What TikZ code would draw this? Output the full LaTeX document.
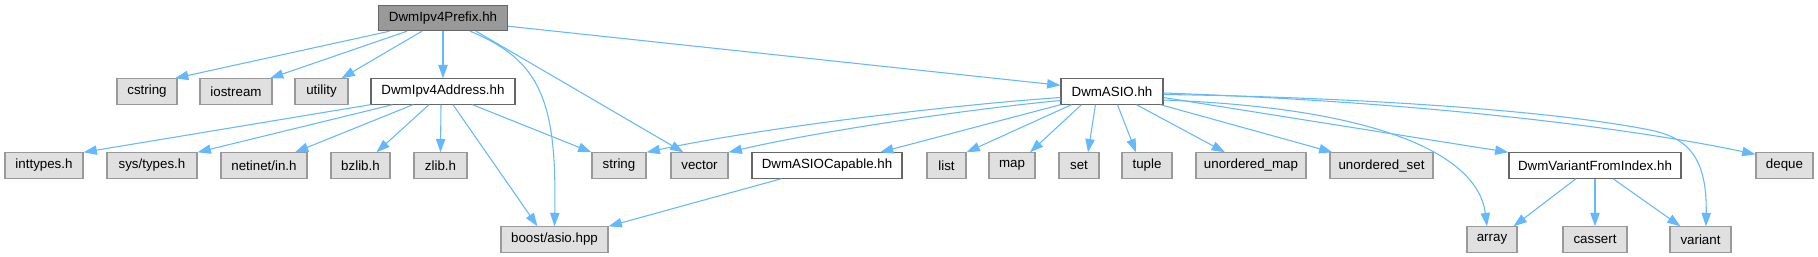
\documentclass[tikz,border=0pt]{standalone}
\usepackage{fontspec}
\setmainfont{Liberation Sans}
\usetikzlibrary{arrows.meta,calc}
\definecolor{Ecolor}{HTML}{63B8FF}
\definecolor{Xfill}{HTML}{E0E0E0}
\definecolor{Xdraw}{HTML}{999999}
\definecolor{Odraw}{HTML}{666666}
\definecolor{Tfill}{HTML}{999999}

\begin{document}
\begin{tikzpicture}[
  x=0.75pt, y=-0.75pt,
  file/.style={draw, line width=0.8pt, minimum height=19pt, inner sep=0pt, font=\fontsize{10}{12}\selectfont},
  ext/.style={file, fill=Xfill, draw=Xdraw},
  own/.style={file, fill=white, draw=Odraw},
  root/.style={file, fill=Tfill, draw=Odraw},
  arr/.style={-{Triangle[length=10pt,width=7pt]}, Ecolor, line width=0.8pt},
]
  \useasboundingbox (0,0) rectangle (1818,257);

  % row 1
  \node[root, minimum width=96.75pt] (prefix) at (443, 18) {DwmIpv4Prefix.hh};

  % row 2
  \node[ext, minimum width=45pt]    (cstring)  at (147, 91.5)  {cstring};
  \node[ext, minimum width=54pt]    (iostream) at (236, 91.5)  {iostream};
  \node[ext, minimum width=39.75pt] (utility)  at (321.5, 91.5) {utility};
  \node[own, minimum width=108pt]   (addr)     at (443, 91.5)  {DwmIpv4Address.hh};
  \node[own, minimum width=76.5pt]  (asio)     at (1112, 91.5) {DwmASIO.hh};

  % row 3
  \node[ext, minimum width=58.5pt]  (inttypes) at (44, 165.5)    {inttypes.h};
  \node[ext, minimum width=67.5pt]  (systypes) at (152, 165.5)   {sys/types.h};
  \node[ext, minimum width=64.5pt]  (netinet)  at (264, 165.5)   {netinet/in.h};
  \node[ext, minimum width=44.25pt] (bzlib)    at (360.5, 165.5) {bzlib.h};
  \node[ext, minimum width=39.75pt] (zlib)     at (440.5, 165.5) {zlib.h};
  \node[ext, minimum width=40.5pt]  (string)   at (619, 165.5)   {string};
  \node[ext, minimum width=42.75pt] (vector)   at (699.5, 165.5) {vector};
  \node[own, minimum width=112.5pt] (capable)  at (827, 165.5)   {DwmASIOCapable.hh};
  \node[ext, minimum width=29.25pt] (list)     at (946.5, 165.5) {list};
  \node[ext, minimum width=34.5pt]  (map)      at (1012, 165.5)  {map};
  \node[ext, minimum width=30pt]    (set)      at (1079, 165.5)  {set};
  \node[ext, minimum width=37.5pt]  (tuple)    at (1147, 165.5)  {tuple};
  \node[ext, minimum width=82.5pt]  (umap)     at (1251, 165.5)  {unordered\_map};
  \node[ext, minimum width=77.25pt] (uset)     at (1381.5, 165.5) {unordered\_set};
  \node[own, minimum width=129pt]   (varidx)   at (1595, 165.5)  {DwmVariantFromIndex.hh};
  \node[ext, minimum width=42.75pt] (deque)    at (1784.5, 165.5) {deque};

  % row 4
  \node[ext, minimum width=80.25pt] (boost)   at (554.5, 239.5)  {boost/asio.hpp};
  \node[ext, minimum width=37.5pt]  (array)   at (1492, 239.5)   {array};
  \node[ext, minimum width=48pt]    (cassert) at (1595, 239.5)   {cassert};
  \node[ext, minimum width=45.75pt] (variant) at (1700.5, 239.5) {variant};

  % DwmIpv4Prefix.hh
  \draw[arr] ($(prefix.south)+(-53.5,0)$) -- ($(cstring.north)+(28,0)$);
  \draw[arr] ($(prefix.south)+(-36,0)$) -- ($(iostream.north)+(34,0)$);
  \draw[arr] ($(prefix.south)+(-21,0)$) -- ($(utility.north)+(20,0)$);
  \draw[arr] (prefix) -- (addr);
  \draw[arr] ($(prefix.south)+(27,0)$) .. controls (540,60) and (557,100) .. (boost.north);
  \draw[arr] ($(prefix.south)+(33,0)$) -- ($(vector.north)+(-16,0)$);
  \draw[arr] ($(prefix.south east)+(0,-5)$) -- ($(asio.north west)+(0,7)$);

  % DwmIpv4Address.hh
  \draw[arr] (addr.south west) -- (inttypes.north east);
  \draw[arr] ($(addr.south west)+(22,0)$) -- (systypes.north east);
  \draw[arr] ($(addr.south)+(-30,0)$) -- ($(netinet.north)+(31,0)$);
  \draw[arr] ($(addr.south)+(-14,0)$) -- ($(bzlib.north)+(16,0)$);
  \draw[arr] ($(addr.south)+(-2,0)$) -- (zlib.north);
  \draw[arr] ($(addr.south)+(29.5,0)$) -- (string.north west);
  \draw[arr] ($(addr.south)+(10,0)$) -- ($(boost.north)+(-17,0)$);

  % DwmASIO.hh
  \draw[arr] ($(asio.west)+(0,6)$) .. controls (950,105) and (760,128) .. (string.north east);
  \draw[arr] ($(asio.west)+(0,9)$) .. controls (960,110) and (810,133) .. (vector.north east);
  \draw[arr] (asio.south west) -- ($(capable.north)+(53,0)$);
  \draw[arr] ($(asio.south west)+(11,0)$) -- (list.north east);
  \draw[arr] ($(asio.south west)+(21,0)$) -- ($(map.north)+(18,0)$);
  \draw[arr] ($(asio.south west)+(35,0)$) -- ($(set.north)+(9,0)$);
  \draw[arr] ($(asio.south west)+(57,0)$) -- ($(tuple.north)+(-11,0)$);
  \draw[arr] ($(asio.south west)+(76,0)$) -- ($(umap.north)+(-26,0)$);
  \draw[arr] ($(asio.south east)+(-3,0)$) -- ($(uset.north west)+(3,0)$);
  \draw[arr] ($(asio.east)+(0,8.5)$) .. controls (1380,108) and (1478,155) .. ($(array.north)+(-5,0)$);
  \draw[arr] ($(asio.east)+(0,6)$) -- (varidx.north west);
  \draw[arr] ($(asio.east)+(0,3)$) .. controls (1350,97) and (1550,110) .. (1650,130)
    .. controls (1690,138) and (1707,160) .. ($(variant.north)+(5.5,0)$);
  \draw[arr] ($(asio.east)+(0,1.5)$) .. controls (1450,103) and (1650,132) .. ($(deque.north west)+(0,2)$);

  % DwmASIOCapable.hh, DwmVariantFromIndex.hh
  \draw[arr] ($(capable.south west)+(30,0)$) -- (boost.north east);
  \draw[arr] ($(varidx.south)+(-19,0)$) -- ($(array.north east)+(-4,0)$);
  \draw[arr] (varidx) -- (cassert);
  \draw[arr] ($(varidx.south)+(18,0)$) -- ($(variant.north west)+(11,0)$);
\end{tikzpicture}
\end{document}
